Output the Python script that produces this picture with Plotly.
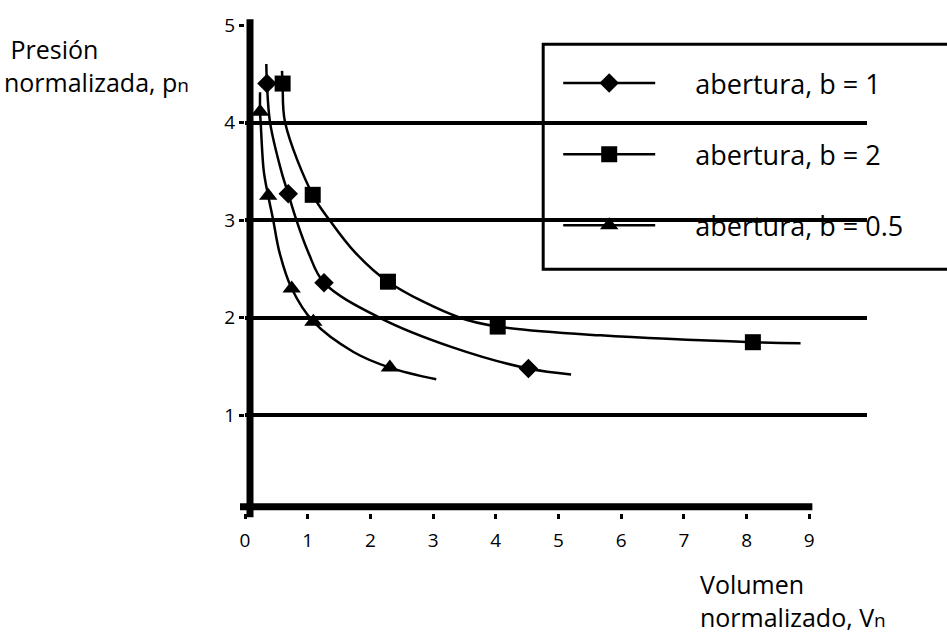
import plotly.graph_objects as go

# ---- data ----------------------------------------------------------------
SERIES_NAMES = ["abertura, b = 1", "abertura, b = 2", "abertura, b = 0.5"]
SYMBOLS = ["diamond", "square", "triangle-up"]

X_TICKS = [0, 1, 2, 3, 4, 5, 6, 7, 8, 9]
Y_TICKS = [1, 2, 3, 4, 5]

# measured points (markers)
b1_v = [0.35, 0.69, 1.26, 4.52]
b1_p = [4.40, 3.27, 2.36, 1.48]
b2_v = [0.60, 1.08, 2.28, 4.03, 8.10]
b2_p = [4.40, 3.26, 2.37, 1.91, 1.75]
b05_v = [0.24, 0.37, 0.745, 1.09, 2.31]
b05_p = [4.11, 3.25, 2.30, 1.96, 1.49]

# extra points along the smooth trend curves (no marker)
b1_curve_v = [0.34, 0.40, 0.58, 0.82, 1.01, 2.15, 3.30, 5.20]
b1_curve_p = [4.60, 4.00, 3.50, 3.00, 2.67, 2.00, 1.70, 1.42]
b2_curve_v = [0.59, 0.64, 1.35, 1.755, 3.43, 5.67, 8.86]
b2_curve_p = [4.53, 4.00, 3.00, 2.67, 2.00, 1.82, 1.74]
b05_curve_v = [0.24, 0.25, 0.30, 0.45, 0.55, 1.73, 3.05]
b05_curve_p = [4.31, 4.00, 3.50, 3.00, 2.67, 1.65, 1.37]

# ---- layout geometry (pixels) --------------------------------------------
W, H = 947, 632
PLOT_L, PLOT_T = 245, 20.7
PLOT_W, PLOT_H = 621.6, 492.0
FONT = "Open Sans"


def px(x):
    return (x - PLOT_L) / PLOT_W


def py(y):
    return (PLOT_T + PLOT_H - y) / PLOT_H


def build_series(mv, mp, cv, cp):
    pts = [(v, p, True) for v, p in zip(mv, mp)] + [(v, p, False) for v, p in zip(cv, cp)]
    pts.sort(key=lambda t: (-t[1], t[0]))
    xs = [t[0] for t in pts]
    ys = [t[1] for t in pts]
    sel = [i for i, t in enumerate(pts) if t[2]]
    return xs, ys, sel


series = [
    (b1_v, b1_p, b1_curve_v, b1_curve_p),
    (b2_v, b2_p, b2_curve_v, b2_curve_p),
    (b05_v, b05_p, b05_curve_v, b05_curve_p),
]
marker_sizes = [15, 16, 16]

fig = go.Figure()
for i, (mv, mp, cv, cp) in enumerate(series):
    xs, ys, sel = build_series(mv, mp, cv, cp)
    fig.add_trace(go.Scatter(
        x=xs, y=ys,
        name="\u00a0" * 5 + SERIES_NAMES[i],
        legendgroup=str(i),
        mode="lines+markers",
        line=dict(color="black", width=2.5, shape="spline"),
        marker=dict(symbol=SYMBOLS[i], size=marker_sizes[i], color="black"),
        selectedpoints=sel,
        unselected=dict(marker=dict(opacity=0)),
        cliponaxis=False,
        hoverinfo="skip",
    ))

shapes = [
    # legend frame (runs off the right edge like the original)
    dict(type="rect", xref="paper", yref="paper",
         x0=px(543), x1=px(952), y0=py(267), y1=py(40),
         line=dict(color="black", width=3), fillcolor="rgba(0,0,0,0)", layer="below"),
    # heavy axis lines
    dict(type="line", xref="paper", yref="paper",
         x0=px(250), x1=px(250), y0=py(517), y1=py(15),
         line=dict(color="black", width=7)),
    dict(type="line", xref="paper", yref="paper",
         x0=px(240), x1=px(812), y0=py(506.5), y1=py(506.5),
         line=dict(color="black", width=7)),
]

small_n = "<span style='font-size:19px'>n</span>"
annotations = [
    dict(text="\u00a0Presión<br>normalizada, p" + small_n, x=px(2), y=py(62)),
    dict(text="Volumen<br>normalizado, V" + small_n, x=px(698), y=py(601)),
]
for a in annotations:
    a.update(xref="paper", yref="paper", showarrow=False, xanchor="left",
             yanchor="middle", align="left",
             font=dict(family=FONT, size=25, color="black"))

fig.update_layout(
    width=W, height=H,
    margin=dict(l=PLOT_L, r=W - PLOT_L - PLOT_W, t=PLOT_T, b=H - PLOT_T - PLOT_H, pad=0),
    paper_bgcolor="white", plot_bgcolor="white",
    font=dict(family=FONT, color="black"),
    showlegend=True,
    legend=dict(
        x=px(558), y=py(55), xanchor="left", yanchor="top",
        bgcolor="rgba(0,0,0,0)", borderwidth=0,
        font=dict(family=FONT, size=27, color="black"),
        itemwidth=92, tracegroupgap=33, traceorder="grouped",
    ),
    xaxis=dict(
        range=[0, 9.92], tickvals=X_TICKS, showgrid=False, zeroline=False,
        showline=False, ticks="outside", ticklen=5, tickwidth=3, tickcolor="black",
        tickfont=dict(family=FONT, size=19, color="black"), ticklabelstandoff=5,
        fixedrange=True,
    ),
    yaxis=dict(
        range=[0, 5], tickvals=Y_TICKS, showgrid=True, gridcolor="black", gridwidth=3.5,
        zeroline=False, showline=False, ticks="outside", ticklen=5, tickwidth=3,
        tickcolor="black", tickfont=dict(family=FONT, size=19, color="black"),
        fixedrange=True,
    ),
    shapes=shapes,
    annotations=annotations,
)

# the page's default body margin would shift the chart; remove it
fig.write_html("out.html", config={"displayModeBar": False},
               post_script="document.body.style.margin='0px';")
